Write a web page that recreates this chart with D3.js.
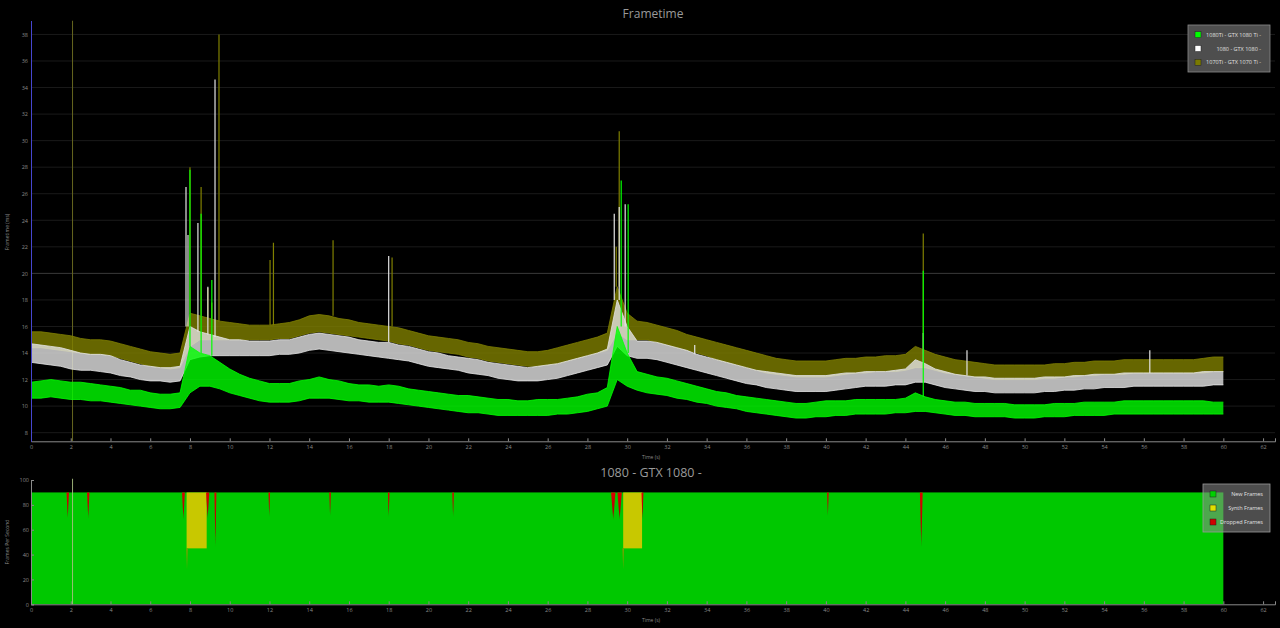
<!DOCTYPE html>
<html><head><meta charset="utf-8">
<script src="https://cdn.jsdelivr.net/npm/d3@7"></script>
<style>
html,body{margin:0;padding:0;background:#000;}
svg{display:block;}
text{font-family:"Open Sans","DejaVu Sans",sans-serif;}
</style></head>
<body>
<svg id="c" width="1280" height="628"></svg>
<script>
// ---------------- DATA ----------------
const seriesNames = ["1080Ti - GTX 1080 Ti -", "1080 - GTX 1080 -", "1070Ti - GTX 1070 Ti -"];
const seriesColors = ["#00ff00", "#ffffff", "#808000"];
// sample times (s), every 0.5 s
const timeS = d3.range(0, 60.001, 0.5);
// frametime envelope (ms): low / high of each 0.5 s window
const ti1080Lo = [10.6,10.6,10.7,10.6,10.5,10.5,10.4,10.4,10.3,10.2,10.1,10.0,9.9,9.8,9.8,9.9,11.0,11.5,11.5,11.3,11.0,10.8,10.6,10.4,10.3,10.3,10.3,10.4,10.6,10.6,10.6,10.5,10.4,10.4,10.3,10.3,10.3,10.2,10.1,10.0,9.9,9.8,9.7,9.6,9.5,9.5,9.4,9.3,9.3,9.3,9.3,9.3,9.3,9.4,9.4,9.5,9.6,9.8,10.0,12.0,11.5,11.2,11.0,10.9,10.8,10.6,10.5,10.3,10.2,10.0,9.9,9.8,9.6,9.5,9.4,9.3,9.2,9.1,9.1,9.2,9.2,9.3,9.3,9.4,9.4,9.4,9.4,9.5,9.5,9.6,9.6,9.5,9.4,9.3,9.3,9.2,9.2,9.2,9.2,9.1,9.1,9.1,9.2,9.2,9.2,9.3,9.3,9.3,9.3,9.4,9.4,9.4,9.4,9.4,9.4,9.4,9.4,9.4,9.4,9.4,9.4];
const ti1080Hi = [11.8,11.9,12.0,11.9,11.8,11.8,11.7,11.6,11.5,11.4,11.2,11.2,11.0,10.9,10.9,11.0,14.5,14.0,13.8,13.3,12.8,12.4,12.1,11.9,11.7,11.7,11.7,11.9,12.0,12.2,12.0,11.9,11.7,11.6,11.6,11.5,11.6,11.5,11.3,11.2,11.1,11.0,10.9,10.8,10.8,10.7,10.6,10.5,10.5,10.4,10.4,10.5,10.5,10.5,10.6,10.7,10.9,11.0,11.4,16.0,14.0,12.6,12.4,12.2,12.1,11.9,11.7,11.5,11.3,11.1,11.0,10.8,10.7,10.6,10.5,10.4,10.3,10.2,10.2,10.3,10.4,10.4,10.4,10.5,10.5,10.5,10.5,10.5,10.6,11.0,10.7,10.5,10.4,10.3,10.3,10.2,10.2,10.2,10.2,10.1,10.1,10.1,10.1,10.2,10.2,10.2,10.3,10.3,10.3,10.3,10.4,10.4,10.4,10.4,10.4,10.4,10.4,10.4,10.4,10.3,10.3];
const gtx1080Lo = [13.3,13.2,13.1,13.0,12.8,12.7,12.7,12.6,12.5,12.3,12.2,12.0,11.9,11.9,11.8,11.9,13.5,13.7,13.8,13.8,13.8,13.8,13.8,13.8,13.8,13.9,13.9,14.0,14.2,14.3,14.2,14.1,14.0,13.9,13.8,13.7,13.6,13.5,13.4,13.2,13.0,12.9,12.8,12.7,12.5,12.4,12.3,12.1,12.0,11.9,11.9,11.9,12.0,12.1,12.3,12.5,12.7,12.9,13.1,14.5,13.8,13.6,13.6,13.5,13.3,13.1,12.9,12.7,12.5,12.3,12.1,11.9,11.7,11.6,11.4,11.3,11.2,11.1,11.1,11.1,11.1,11.2,11.3,11.4,11.5,11.5,11.5,11.6,11.6,11.8,11.8,11.6,11.4,11.3,11.2,11.1,11.1,11.0,11.0,11.0,11.0,11.0,11.1,11.1,11.2,11.2,11.3,11.3,11.4,11.4,11.4,11.5,11.5,11.5,11.5,11.5,11.5,11.5,11.5,11.6,11.6];
const gtx1080Hi = [14.7,14.6,14.5,14.4,14.2,14.0,13.9,13.9,13.8,13.5,13.3,13.1,13.0,12.9,12.9,13.0,16.0,15.6,15.4,15.2,15.0,15.0,14.9,14.9,14.9,15.0,15.0,15.2,15.4,15.5,15.4,15.3,15.2,15.0,14.9,14.8,14.8,14.6,14.5,14.3,14.1,14.0,13.8,13.7,13.6,13.5,13.3,13.2,13.1,13.0,12.9,13.0,13.1,13.2,13.4,13.6,13.8,14.0,14.3,18.0,16.0,14.9,14.9,14.8,14.6,14.4,14.2,13.9,13.7,13.5,13.3,13.1,12.9,12.7,12.6,12.5,12.4,12.3,12.3,12.3,12.3,12.4,12.5,12.5,12.6,12.6,12.6,12.7,12.8,13.5,13.2,12.8,12.6,12.4,12.3,12.2,12.2,12.1,12.1,12.1,12.1,12.1,12.2,12.2,12.2,12.3,12.3,12.4,12.4,12.4,12.5,12.5,12.5,12.5,12.5,12.5,12.5,12.5,12.6,12.6,12.6];
const ti1070Lo = [14.4,14.4,14.3,14.2,14.1,14.0,13.9,13.9,13.8,13.6,13.4,13.2,13.0,12.9,12.8,12.9,14.5,15.0,15.0,15.0,15.0,15.0,15.0,15.0,15.0,15.1,15.1,15.3,15.5,15.6,15.5,15.4,15.3,15.2,15.1,15.0,14.9,14.7,14.6,14.4,14.2,14.1,14.0,13.9,13.7,13.6,13.4,13.3,13.2,13.1,13.0,13.0,13.1,13.2,13.4,13.6,13.8,14.0,14.2,15.5,15.0,15.0,15.0,14.8,14.6,14.4,14.2,14.0,13.8,13.5,13.3,13.1,12.9,12.7,12.5,12.4,12.3,12.2,12.2,12.2,12.2,12.3,12.4,12.5,12.5,12.6,12.6,12.6,12.7,12.9,12.9,12.7,12.5,12.4,12.3,12.2,12.1,12.0,12.0,12.0,12.0,12.0,12.1,12.1,12.2,12.2,12.3,12.3,12.4,12.4,12.4,12.5,12.5,12.5,12.5,12.5,12.5,12.5,12.5,12.6,12.6];
const ti1070Hi = [15.6,15.6,15.5,15.4,15.3,15.1,15.0,15.0,14.9,14.7,14.5,14.3,14.1,14.0,13.9,14.0,17.0,16.8,16.6,16.4,16.3,16.2,16.1,16.1,16.1,16.2,16.3,16.5,16.8,16.9,16.8,16.6,16.5,16.3,16.2,16.1,16.0,15.9,15.7,15.5,15.3,15.2,15.1,15.0,14.8,14.7,14.5,14.4,14.3,14.2,14.1,14.1,14.2,14.4,14.6,14.8,15.0,15.2,15.5,19.0,17.0,16.4,16.3,16.1,15.9,15.7,15.4,15.2,15.0,14.8,14.6,14.4,14.2,14.0,13.8,13.6,13.5,13.4,13.4,13.4,13.4,13.5,13.6,13.6,13.7,13.7,13.8,13.8,13.9,14.5,14.2,13.9,13.7,13.5,13.4,13.3,13.2,13.1,13.1,13.1,13.1,13.1,13.1,13.2,13.2,13.3,13.3,13.4,13.4,13.4,13.5,13.5,13.5,13.5,13.5,13.5,13.5,13.5,13.6,13.7,13.7];
// individual frametime spikes: [time s, ms]
const ti1070Spikes = [[8.0,28.0],[8.56,26.5],[9.46,38.0],[9.1,17.8],[8.9,18.9],[12.03,21.0],[12.2,22.3],[15.2,22.5],[18.17,21.2],[29.6,30.7],[29.45,22],[44.9,23.0]];
const ti1070OffScaleT = 2.09;
const gtx1080Spikes = [[7.8,26.5],[7.9,22.9],[8.4,23.8],[9.26,34.6],[8.9,19.0],[18.0,21.3],[29.35,24.5],[29.6,25.0],[29.9,25.2],[44.9,15.5],[47.1,14.2],[56.3,14.2],[33.4,14.6]];
const ti1080Spikes = [[8.0,27.8],[8.56,24.5],[9.1,19.5],[29.7,27.0],[30.05,25.2],[44.9,20.2]];
const ftTicks = d3.range(8, 38.1, 2);
const timeTicks = d3.range(0, 62.1, 2);

// FCAT frame rate chart (1080): new frames / synth / dropped
const fpsTicks = [0, 20, 40, 60, 80, 100];
const newFramesFps = 90;
const runEnd = 60;
const synthStart = [7.83, 29.8];
const synthEnd = [8.84, 30.75];
const synthNewFps = [45, 45];
const dropT = [1.85, 2.88, 7.67, 8.89, 9.28, 11.99, 15.05, 18.0, 21.24, 29.3, 29.62, 30.77, 40.1, 44.8];
const dropWidth = [0.12, 0.12, 0.14, 0.16, 0.1, 0.08, 0.08, 0.08, 0.08, 0.22, 0.22, 0.1, 0.08, 0.14];
const dropMin = [69, 69, 68, 69, 46, 70, 71, 70, 70, 68, 68, 68, 71, 46];
const newDipT = [7.85, 29.8];
const newDipMin = [28, 28];

// ---------------- CHART ----------------
const svg = d3.select("#c");
const x = d3.scaleLinear().domain([0, 62.6]).range([31, 1275]);
const y = d3.scaleLinear().domain([7.35, 39.05]).range([441.3, 20.5]);
const yf = d3.scaleLinear().domain([0, 100]).range([604.3, 480]);

svg.append("defs").append("clipPath").attr("id","clipTop")
  .append("rect").attr("x", x(0)).attr("y", y(39.05)).attr("width", x(62.6)-x(0)).attr("height", y(7.35)-y(39.05));

// grid
svg.append("g").selectAll("line").data(ftTicks).join("line")
  .attr("x1", x(0)).attr("x2", x(62.6))
  .attr("y1", d => y(d)).attr("y2", d => y(d))
  .attr("stroke", d => d === 20 ? "#3a3a3a" : "#1a1a1a").attr("stroke-width", 1);

// title
svg.append("text").attr("x", 653).attr("y", 18).attr("text-anchor","middle")
  .attr("fill","#9a9a9a").attr("font-size", 12).text("Frametime");

const plot = svg.append("g").attr("clip-path","url(#clipTop)");
// off-scale 1070 Ti spike
plot.append("line").attr("x1", x(ti1070OffScaleT)).attr("x2", x(ti1070OffScaleT)).attr("y1", y(39.05)).attr("y2", y(7.35))
  .attr("stroke", "#66661e").attr("stroke-width", 1);
const series = [
  {lo: ti1070Lo, hi: ti1070Hi, sp: ti1070Spikes, c: seriesColors[2]},
  {lo: gtx1080Lo, hi: gtx1080Hi, sp: gtx1080Spikes, c: "#e4e4e4"},
  {lo: ti1080Lo, hi: ti1080Hi, sp: ti1080Spikes, c: seriesColors[0]}
];
series.forEach(s => {
  const pts = timeS.map((t, i) => [t, s.lo[i], s.hi[i]]);
  const area = d3.area().x(d => x(d[0])).y0(d => y(d[1])).y1(d => y(d[2])).curve(d3.curveLinear);
  plot.append("path").datum(pts).attr("d", area).attr("fill", s.c).attr("opacity", 0.8);
  plot.append("path").datum(pts).attr("d", d3.line().x(d => x(d[0])).y(d => y(d[2])))
    .attr("fill","none").attr("stroke", s.c).attr("stroke-width", 0.8);
  plot.append("path").datum(pts).attr("d", d3.line().x(d => x(d[0])).y(d => y(d[1])))
    .attr("fill","none").attr("stroke", s.c).attr("stroke-width", 0.8);
  const hiAt = t => { const i = Math.min(timeS.length-1, Math.round(t/0.5)); return s.hi[i]; };
  plot.append("g").selectAll("line").data(s.sp).join("line")
    .attr("x1", d => x(d[0])).attr("x2", d => x(d[0]))
    .attr("y1", d => y(hiAt(d[0]))).attr("y2", d => y(d[1]))
    .attr("stroke", s.c).attr("stroke-width", 1.2);
});

// axes top
const xAxisTop = d3.axisBottom(x).tickValues(timeTicks).tickSize(-3).tickPadding(4).tickFormat(d3.format("d"));
const gx = svg.append("g").attr("transform", `translate(0,${y(7.35)})`).call(xAxisTop);
gx.select(".domain").attr("stroke","#8a8a8a");
gx.selectAll(".tick line").attr("stroke","#8a8a8a");
gx.selectAll("text").attr("fill","#8a8a8a").attr("font-size", 5.5);
const gy = svg.append("g").attr("transform", `translate(${x(0)},0)`)
  .call(d3.axisLeft(y).tickValues(ftTicks).tickSize(0).tickPadding(3));
gy.select(".domain").attr("stroke","#4646d0");
gy.selectAll("text").attr("fill","#8a8a8a").attr("font-size", 5.5);
svg.append("text").attr("x", 651).attr("y", 459).attr("text-anchor","middle")
  .attr("fill","#8a8a8a").attr("font-size", 5).text("Time (s)");
svg.append("text").attr("transform","translate(9,232) rotate(-90)").attr("text-anchor","middle")
  .attr("fill","#8a8a8a").attr("font-size", 5).text("Frametime (ms)");

// legend top
const lg = svg.append("g");
lg.append("rect").attr("x",1188).attr("y",25).attr("width",82).attr("height",47)
  .attr("fill","#4e4e4e").attr("stroke","#8a8a8a").attr("stroke-width",0.8);
const legColors = ["#00ff00","#ffffff","#7a7a00"];
seriesNames.forEach((n, i) => {
  const cy = 34.7 + i * 13.8;
  lg.append("rect").attr("x",1195).attr("y",cy-3).attr("width",6).attr("height",6)
    .attr("fill",legColors[i]).attr("stroke","#222").attr("stroke-width",0.5);
  lg.append("text").attr("x",1261).attr("y",cy+2).attr("text-anchor","end")
    .attr("fill","#e0e0e0").attr("font-size",5.5).text(n);
});

// ---------------- FPS chart ----------------
svg.append("text").attr("x", 651).attr("y", 477).attr("text-anchor","middle")
  .attr("fill","#9a9a9a").attr("font-size", 12.5).text("1080 - GTX 1080 -");

svg.append("rect").attr("x", x(0)).attr("y", yf(newFramesFps))
  .attr("width", x(runEnd) - x(0)).attr("height", yf(0) - yf(newFramesFps)).attr("fill", "#00c800");
// synth frames
svg.append("g").selectAll("rect").data(synthStart).join("rect")
  .attr("x", (d) => x(d)).attr("width", (d, i) => x(synthEnd[i]) - x(d))
  .attr("y", yf(newFramesFps)).attr("height", (d, i) => yf(synthNewFps[i]) - yf(newFramesFps))
  .attr("fill", "#c8c800");
// new-frame dips
svg.append("g").selectAll("path").data(newDipT).join("path")
  .attr("d", (d, i) => `M${x(d-0.04)},${yf(synthNewFps[i])}L${x(d+0.04)},${yf(synthNewFps[i])}L${x(d)},${yf(newDipMin[i])}Z`)
  .attr("fill", "#7ca000");
// dropped frames
const grad = svg.append("defs").append("linearGradient").attr("id","dropG").attr("x1",0).attr("x2",0).attr("y1",0).attr("y2",1);
grad.append("stop").attr("offset","0%").attr("stop-color","#e00000");
grad.append("stop").attr("offset","70%").attr("stop-color","#b00000");
grad.append("stop").attr("offset","100%").attr("stop-color","#406000");
svg.append("g").selectAll("path").data(dropT).join("path")
  .attr("d", (d, i) => `M${x(d - dropWidth[i]/2)},${yf(newFramesFps)}L${x(d + dropWidth[i]/2)},${yf(newFramesFps)}L${x(d)},${yf(dropMin[i])}Z`)
  .attr("fill", "url(#dropG)");

// marker line at the off-scale spike
svg.append("line").attr("x1", x(ti1070OffScaleT)).attr("x2", x(ti1070OffScaleT)).attr("y1", yf(101)).attr("y2", yf(0))
  .attr("stroke", "#a8c080").attr("stroke-width", 0.9);

const gx2 = svg.append("g").attr("transform", `translate(0,${yf(0)})`).call(xAxisTop);
gx2.select(".domain").attr("stroke","#8a8a8a");
gx2.selectAll(".tick line").attr("stroke","#8a8a8a");
gx2.selectAll("text").attr("fill","#8a8a8a").attr("font-size", 5.5);
const gy2 = svg.append("g").attr("transform", `translate(${x(0)},0)`)
  .call(d3.axisLeft(yf).tickValues(fpsTicks).tickSize(-3).tickPadding(2));
gy2.select(".domain").attr("stroke","#8a8a8a");
gy2.selectAll(".tick line").attr("stroke","#8a8a8a");
gy2.selectAll("text").attr("fill","#8a8a8a").attr("font-size", 5.5);
svg.append("text").attr("x", 651).attr("y", 622).attr("text-anchor","middle")
  .attr("fill","#8a8a8a").attr("font-size", 5).text("Time (s)");
svg.append("text").attr("transform","translate(9,542) rotate(-90)").attr("text-anchor","middle")
  .attr("fill","#8a8a8a").attr("font-size", 5).text("Frames Per Second");

// legend bottom
const lg2 = svg.append("g");
lg2.append("rect").attr("x",1203).attr("y",484).attr("width",67).attr("height",48)
  .attr("fill","rgba(140,140,140,0.55)").attr("stroke","#9a9a9a").attr("stroke-width",0.8);
const fpsNames = ["New Frames","Synth Frames","Dropped Frames"];
const fpsColors = ["#00d000","#e0e000","#d00000"];
fpsNames.forEach((n, i) => {
  const cy = 494 + i * 14;
  lg2.append("rect").attr("x",1210).attr("y",cy-3).attr("width",6).attr("height",6)
    .attr("fill",fpsColors[i]).attr("stroke","#222").attr("stroke-width",0.5);
  lg2.append("text").attr("x",1263).attr("y",cy+2).attr("text-anchor","end")
    .attr("fill","#e0e0e0").attr("font-size",5.5).text(n);
});
</script>
</body></html>
